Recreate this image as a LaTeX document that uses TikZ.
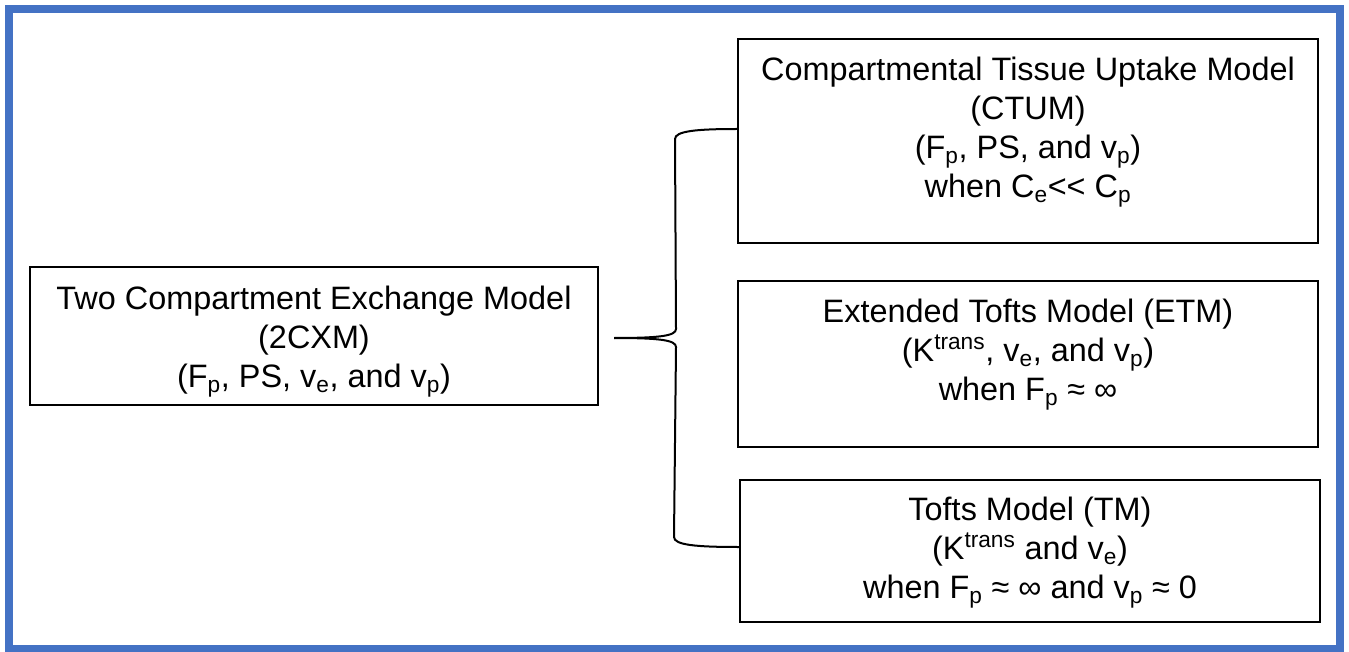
\documentclass[tikz,border=0pt]{standalone}
\usepackage{fontspec}
\setmainfont{Liberation Sans}
\usetikzlibrary{calc}
\definecolor{frameblue}{HTML}{4472C4}
\newcommand{\sbs}[1]{\textsubscript{#1}}
\newcommand{\sps}[1]{\textsuperscript{#1}}
\begin{document}
\begin{tikzpicture}[x=0.75pt,y=-0.75pt,
  box/.style={draw, line width=1.5pt, inner sep=0pt},
  txt/.style={align=center, font=\fontsize{24.3}{29.25}\selectfont, inner sep=0pt},
  lnk/.style={line width=1.5pt}]
\useasboundingbox (0,0) rectangle (1349,652);
\draw[line width=5.6pt, draw=frameblue] (9,9) rectangle (1340,648.5);

\node[box, minimum width=426pt, minimum height=103.5pt] (left) at (314,336) {};
\node[box, minimum width=435pt, minimum height=153pt] (ctum) at (1028,141) {};
\node[box, minimum width=435pt, minimum height=124.5pt] (etm) at (1028,364) {};
\node[box, minimum width=435pt, minimum height=106.5pt] (tm) at (1030,551) {};

\node[txt] (lefttxt) at (314,342) {Two Compartment Exchange Model\\(2CXM)\\(F\sbs{p}, PS, v\sbs{e}, and v\sbs{p})};
\node[txt] (ctumtxt) at (1028,132.5) {Compartmental Tissue Uptake Model\\(CTUM)\\(F\sbs{p}, PS, and v\sbs{p})\\when C\sbs{e}<\kern0pt< C\sbs{p}};
\node[txt] (etmtxt) at (1028,355) {Extended Tofts Model (ETM)\\(K\sps{trans}, v\sbs{e}, and v\sbs{p})\\when F\sbs{p} ≈ ∞};
\node[txt] (tmtxt) at (1030,552.5) {Tofts Model (TM)\\(K\sps{trans} and v\sbs{e})\\when F\sbs{p} ≈ ∞ and v\sbs{p} ≈ 0};

\coordinate (tip) at ($(left.east)+(15,2)$);
\coordinate (topend) at ($(ctum.west)+(0,-12)$);
\coordinate (botend) at ($(tm.west)+(0,-4)$);

\draw[lnk] (tip) .. controls ($(tip)+(45,0)$) and ($(tip)+(62,-2)$) .. ($(tip)+(62,-9)$)
  -- ($(topend)+(-62,10)$) .. controls ($(topend)+(-62,2)$) and ($(topend)+(-40,0)$) .. (topend);
\draw[lnk] (tip) .. controls ($(tip)+(45,0)$) and ($(tip)+(62,2)$) .. ($(tip)+(62,9)$)
  -- ($(botend)+(-65,-10)$) .. controls ($(botend)+(-65,-2)$) and ($(botend)+(-43,0)$) .. (botend);
\end{tikzpicture}
\end{document}
